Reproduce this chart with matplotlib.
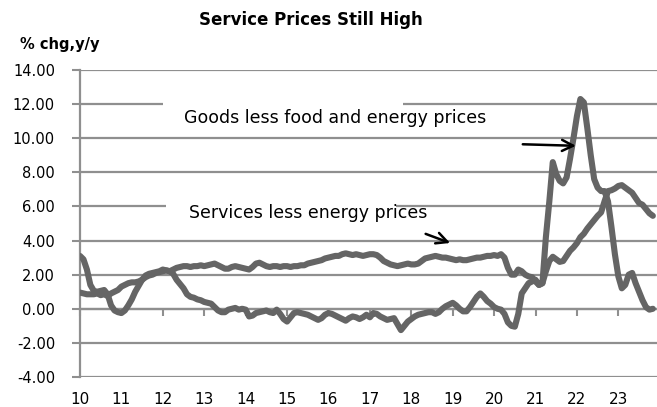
# Service vs goods core CPI chart
import matplotlib.pyplot as plt
import numpy as np
from matplotlib.patches import Rectangle

# Monthly values, Jan 2010 onward (% chg, y/y)
services = [
    0.95, 0.9, 0.85, 0.85, 0.85, 0.9, 0.8, 0.85, 0.75, 0.9, 1.0, 1.1,
    1.3, 1.4, 1.5, 1.55, 1.55, 1.6, 1.7, 1.85, 1.95, 2.0, 2.1, 2.15,
    2.2, 2.25, 2.2, 2.3, 2.4, 2.45, 2.5, 2.5, 2.45, 2.5, 2.5, 2.55,
    2.5, 2.55, 2.6, 2.65, 2.55, 2.45, 2.35, 2.35, 2.45, 2.5, 2.45, 2.4,
    2.35, 2.3, 2.45, 2.65, 2.7, 2.6, 2.5, 2.45, 2.5, 2.5, 2.45, 2.5,
    2.5, 2.45, 2.5, 2.5, 2.55, 2.55, 2.65, 2.7, 2.75, 2.8, 2.85, 2.95,
    3.0, 3.05, 3.1, 3.1, 3.2, 3.25, 3.2, 3.15, 3.2, 3.15, 3.1, 3.15,
    3.2, 3.2, 3.15, 3.0, 2.8, 2.7, 2.6, 2.55, 2.5, 2.55, 2.6, 2.65,
    2.6, 2.6, 2.65, 2.8, 2.95, 3.0, 3.05, 3.1, 3.05, 3.0, 3.0, 2.95,
    2.9, 2.85, 2.9, 2.85, 2.85, 2.9, 2.95, 3.0, 3.0, 3.05, 3.1, 3.1,
    3.15, 3.1, 3.2, 3.0, 2.4, 2.0, 2.0, 2.3, 2.2, 2.0, 1.9, 1.85,
    1.6, 1.4, 1.5, 2.2, 2.8, 3.05, 2.9, 2.75, 2.8, 3.1, 3.4, 3.6,
    3.85, 4.2, 4.4, 4.7, 4.95, 5.2, 5.45, 5.65, 6.3, 6.9, 6.95, 7.05,
    7.2, 7.25, 7.1, 6.95, 6.8, 6.5, 6.2, 6.1, 5.85, 5.6, 5.45,
]
goods = [
    3.1, 2.9, 2.3, 1.4, 1.05, 1.0, 1.05, 1.1, 0.85, 0.2, -0.1, -0.2,
    -0.25, -0.1, 0.2, 0.55, 1.0, 1.35, 1.7, 1.95, 2.05, 2.1, 2.15, 2.2,
    2.3, 2.25, 2.2, 2.05, 1.7, 1.45, 1.2, 0.85, 0.7, 0.65, 0.55, 0.5,
    0.4, 0.35, 0.3, 0.1, -0.1, -0.2, -0.2, -0.05, 0.0, 0.05, -0.05, 0.0,
    -0.05, -0.45, -0.4, -0.25, -0.2, -0.15, -0.1, -0.2, -0.25, -0.05, -0.3, -0.6,
    -0.75, -0.5, -0.25, -0.2, -0.25, -0.3, -0.35, -0.45, -0.55, -0.65, -0.55, -0.35,
    -0.25, -0.3, -0.4, -0.5, -0.6, -0.7, -0.55, -0.45, -0.5, -0.6, -0.5, -0.35,
    -0.5, -0.25, -0.3, -0.45, -0.55, -0.65, -0.6, -0.55, -0.9, -1.25, -1.0, -0.75,
    -0.6, -0.45, -0.35, -0.3, -0.25, -0.2, -0.2, -0.3, -0.2, 0.0, 0.15, 0.25,
    0.35, 0.2, 0.0, -0.15, -0.15, 0.1, 0.4, 0.7, 0.9, 0.7, 0.45, 0.3,
    0.1, 0.0, -0.05, -0.3, -0.8, -1.0, -1.05, -0.3, 0.9, 1.2, 1.5, 1.6,
    1.7, 1.4, 1.5, 4.2, 6.3, 8.6, 7.9, 7.5, 7.35, 7.7, 8.8, 10.0,
    11.3, 12.3, 12.1, 10.6, 9.0, 7.6, 7.1, 6.9, 6.9, 6.3, 4.8, 3.2,
    1.9, 1.2, 1.4, 2.0, 2.1, 1.5, 1.0, 0.5, 0.1, -0.05, 0.0,
]
year_labels = ["10", "11", "12", "13", "14", "15", "16",
               "17", "18", "19", "20", "21", "22", "23"]
ytick_vals = [-4, -2, 0, 2, 4, 6, 8, 10, 12, 14]

line_color = "#656565"
grid_color = "#8f8f8f"

fig = plt.figure(figsize=(6.57, 4.07), dpi=100)
ax = fig.add_axes([80 / 657, 30 / 407, 577 / 657, 307 / 407])

months = np.arange(len(services))
ax.plot(months, services, color=line_color, lw=4.4, zorder=4,
        solid_joinstyle="round", solid_capstyle="round")
ax.plot(np.arange(len(goods)), goods, color=line_color, lw=4.4, zorder=4,
        solid_joinstyle="round", solid_capstyle="round")

ax.set_xlim(0, 167.2)
ax.set_ylim(-4, 14)

# y axis
ax.set_yticks(ytick_vals)
ax.set_yticklabels([f"{v:.2f}" for v in ytick_vals], fontsize=10.5)
ax.yaxis.grid(True, color=grid_color, lw=1.6, zorder=1)
ax.set_axisbelow(True)
ax.tick_params(axis="y", length=6, width=1.5, color=grid_color, pad=12)

# x axis crosses at zero, labels sit at the bottom
year_ticks = [12 * i for i in range(len(year_labels))]
ax.spines["bottom"].set_position(("data", 0))
ax.spines["bottom"].set_color(grid_color)
ax.spines["bottom"].set_linewidth(1.6)
ax.set_xticks(year_ticks)
ax.tick_params(axis="x", length=5, width=1.5, color=grid_color, labelbottom=False)
ax.spines["left"].set_color(grid_color)
ax.spines["left"].set_linewidth(1.6)
ax.spines["top"].set_visible(False)
ax.spines["right"].set_visible(False)

secax = ax.secondary_xaxis("bottom")
secax.set_xticks(year_ticks)
secax.set_xticklabels(year_labels, fontsize=11)
secax.tick_params(length=0, pad=11)
secax.spines["bottom"].set_visible(False)

# white boxes behind the labels hide pieces of gridlines
ax.add_patch(Rectangle((24, 11.6), 69.5, 0.8, facecolor="white",
                       edgecolor="none", zorder=2))
ax.add_patch(Rectangle((25, 5.7), 66.5, 0.6, facecolor="white",
                       edgecolor="none", zorder=2))

ax.text(30, 11.2, "Goods less food and energy prices", fontsize=12.5,
        va="center", ha="left", zorder=5)
ax.text(31.5, 5.6, "Services less energy prices", fontsize=12.5,
        va="center", ha="left", zorder=5)

ax.annotate("", xy=(144.5, 9.55), xytext=(127.5, 9.65),
            arrowprops=dict(arrowstyle="->", color="black", lw=1.8,
                            mutation_scale=20), zorder=6)
ax.annotate("", xy=(108.0, 3.8), xytext=(99.4, 4.45),
            arrowprops=dict(arrowstyle="->", color="black", lw=1.8,
                            mutation_scale=20), zorder=6)

fig.text(311 / 657, 1 - 20 / 407, "Service Prices Still High", fontsize=12,
         fontweight="bold", ha="center", va="center")
fig.text(20 / 657, 1 - 44 / 407, "% chg,y/y", fontsize=10.5,
         fontweight="bold", ha="left", va="center")

fig.savefig("out.png", dpi=100)
